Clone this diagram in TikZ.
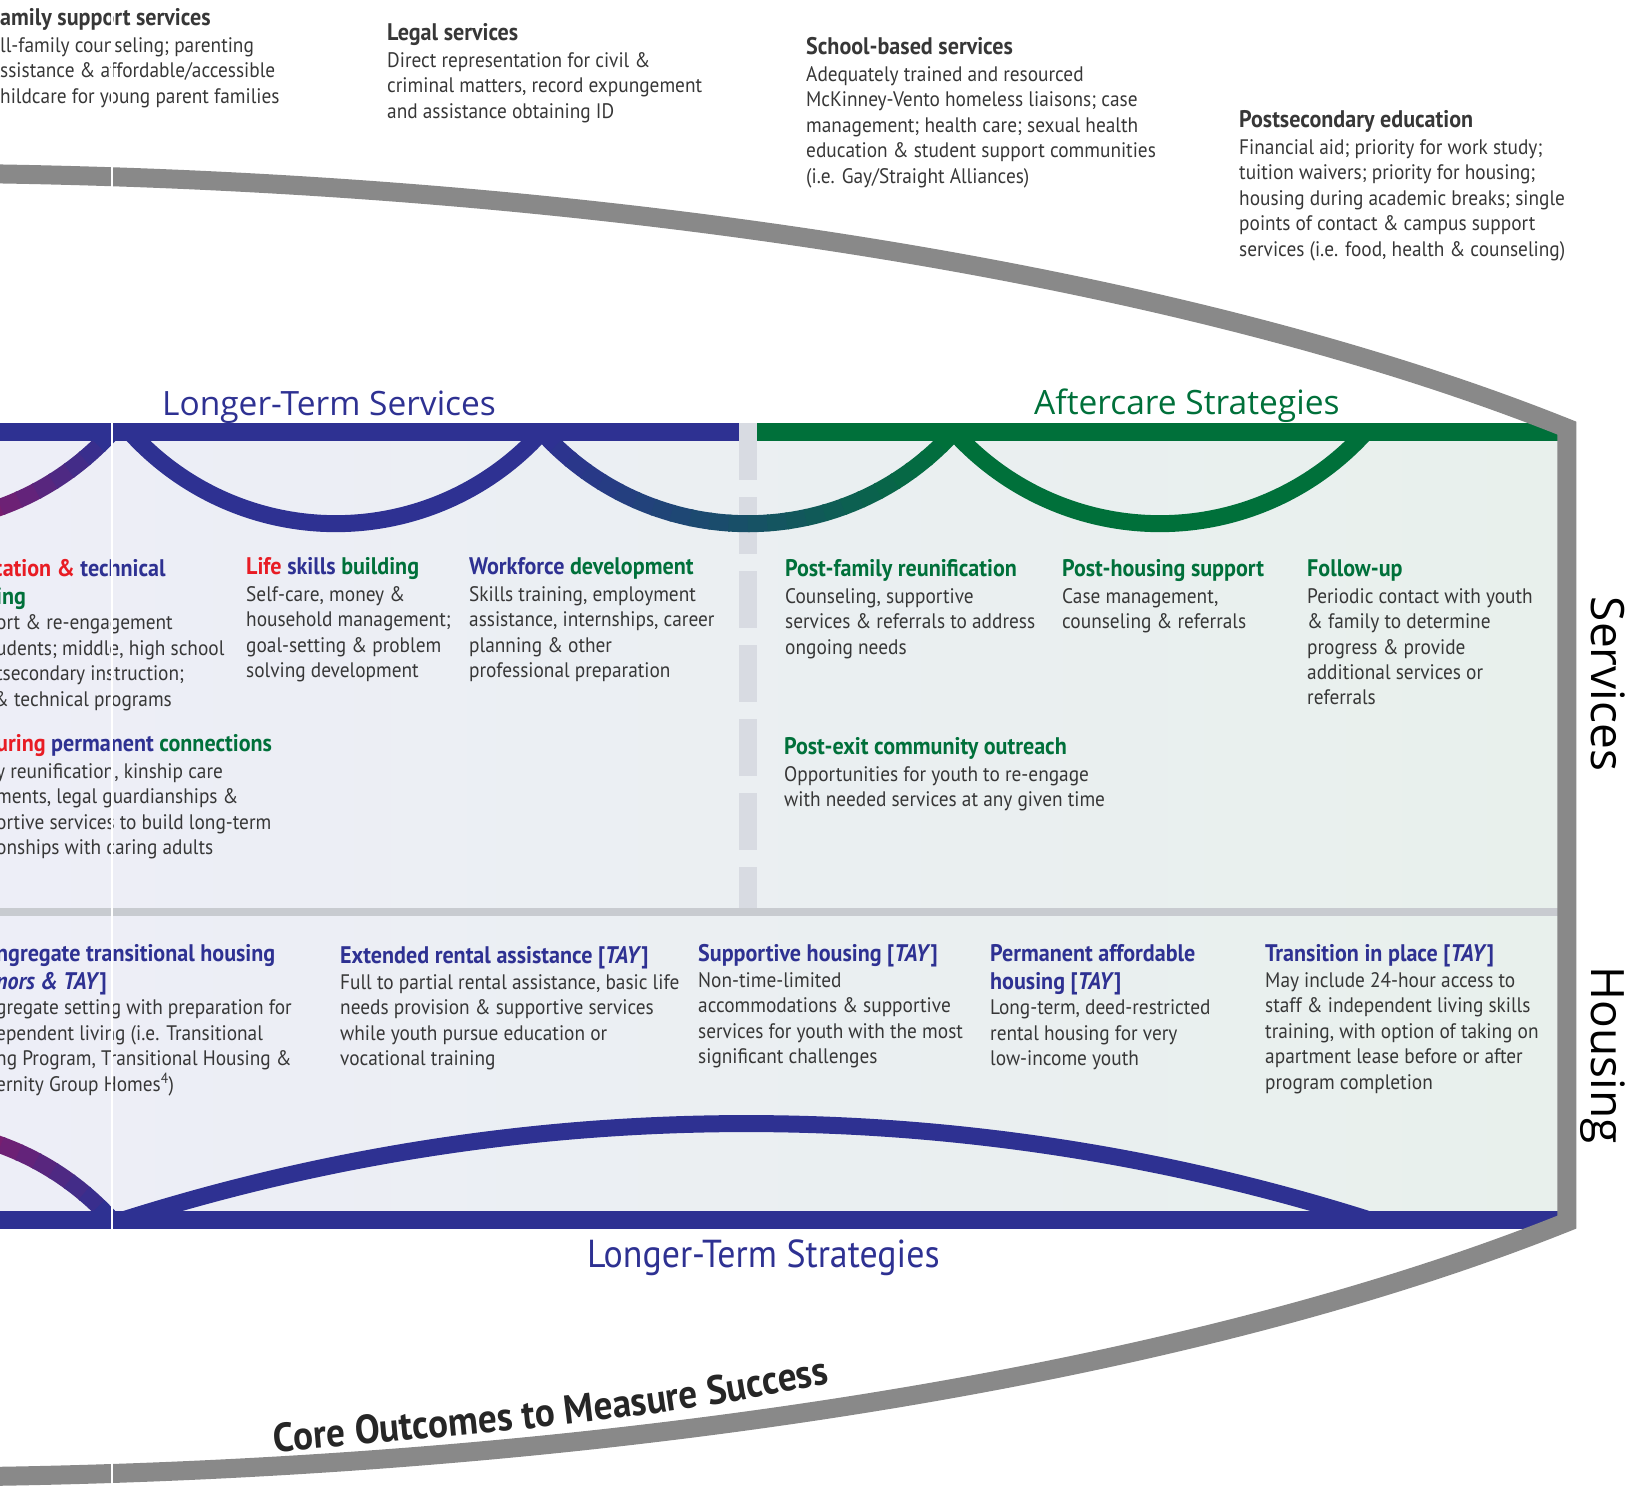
\documentclass[tikz,border=0pt]{standalone}
\usepackage{fontspec}
\setmainfont{PT Sans}[FakeStretch=0.92]
\newfontfamily\titlefont{Open Sans}
\usetikzlibrary{decorations.text}
\definecolor{navy}{RGB}{46,49,146}
\definecolor{leaf}{RGB}{0,112,58}
\definecolor{hot}{RGB}{232,28,36}
\definecolor{plum}{RGB}{120,30,112}
\definecolor{bandgray}{RGB}{137,137,137}
\definecolor{ink}{RGB}{55,55,55}
\definecolor{dashgray}{RGB}{216,219,226}
\definecolor{rulegray}{RGB}{200,203,208}
\definecolor{paneL}{RGB}{237,238,247}
\definecolor{paneR}{RGB}{232,240,236}
\newcommand\tay{[\textit{TAY}]}
\newcommand\txtsize{\fontsize{21}{25.4}\selectfont}
\newcommand\hd[1]{{\fontsize{24}{29}\selectfont\bfseries #1}}
\begin{document}
\begin{tikzpicture}[x=1pt, y=-1pt, line join=round,
  txt/.style={anchor=north west, yshift=17.78pt, inner sep=0pt, align=left, text=ink, font=\txtsize, execute at begin node=\strut},
  title/.style={anchor=base west, inner sep=0pt, font=\titlefont\fontsize{33.5}{34}\selectfont},
  side/.style={anchor=base, rotate=-90, inner sep=0pt, text=black, font=\titlefont\fontsize{46}{46}\selectfont},
  scallop/.style={line width=17pt},
  bar/.style={line width=18pt},
  outline/.style={draw=bandgray, line width=19pt, line join=miter}]
\useasboundingbox (0,0) rectangle (1629,1486);
\clip (0,0) rectangle (1629,1486);
% panel
\shade[left color=paneL, right color=paneR] (0,441) rectangle (1558,1211);
\draw[dashgray, line width=18pt, dash pattern=on 57pt off 17pt] (748,423) -- (748,908);
\draw[rulegray, line width=8pt] (0,912) -- (1558,912);
% arcs
\draw[scallop, plum] (-93.9,246.7) ++(100:277) arc[start angle=100, end angle=73.5, radius=277];
\foreach \k in {0,...,7}
  {\pgfmathsetmacro\mix{100*\k/7}
   \draw[scallop, navy!\mix!plum] (-93.9,246.7) ++(74-4*\k:277) arc[start angle=74-4*\k, end angle=69.6-4*\k, radius=277];}
\draw[scallop, navy] (130,432) arc[start angle=138, end angle=42, radius=277];
\foreach \k in {0,...,23}
  {\pgfmathsetmacro\mix{100*\k/23}
   \draw[scallop, leaf!\mix!navy] (747.9,246.7) ++(138-4*\k:277) arc[start angle=138-4*\k, end angle=133.6-4*\k, radius=277];}
\draw[scallop, leaf] (954,432) arc[start angle=138, end angle=42, radius=277];
\draw[scallop, plum] (-93.9,1405.3) ++(-100:277) arc[start angle=-100, end angle=-73.5, radius=277];
\foreach \k in {0,...,7}
  {\pgfmathsetmacro\mix{100*\k/7}
   \draw[scallop, navy!\mix!plum] (-93.9,1405.3) ++(-74+4*\k:277) arc[start angle=-74+4*\k, end angle=-69.6+4*\k, radius=277];}
\draw[scallop, navy] (126,1219) arc[start angle=-107.5, end angle=-72.5, radius=2063];
% bars
\draw[bar, navy] (0,432) -- (739,432);
\draw[bar, leaf] (757,432) -- (1558,432);
\draw[bar, navy] (0,1220) -- (1558,1220);
\draw[outline] (-115,825) ++(-100:2120 and 652) arc[start angle=-100, end angle=-37.5, x radius=2120, y radius=652]
  -- ++(0,794) arc[start angle=37.5, end angle=100, x radius=2120, y radius=652];
% titles
\node[title, text=navy] (ltserv) at (162,415) {Longer-Term Services};
\node[title, text=leaf] (after) at (1034,414) {Aftercare Strategies};
\node[anchor=base west, inner sep=0pt, text=navy, font=\fontsize{39}{39}\selectfont] (ltstrat) at (587,1267) {Longer-Term Strategies};
\node[side] (serv) at (1591,684) {Services};
\node[side] (hous) at (1591,1055) {Housing};
\path[decorate, decoration={text along path, text={|\bfseries\fontsize{40.5}{40}\selectfont\color{black!85}|Core Outcomes to Measure Success}}]
  (274,1452) .. controls (502,1432) and (740,1415) .. (960,1350);
% top
\node[txt] (famsup) at (0,26) {\hd{amily support services}\\[1.6pt]ll-family counseling; parenting\\ssistance \& affordable/accessible\\hildcare for young parent families};
\node[txt] (legal) at (387,41) {\hd{Legal services}\\[1.6pt]Direct representation for civil \&\\criminal matters, record expungement\\and assistance obtaining ID};
\node[txt] (school) at (806,55) {\hd{School-based services}\\[1.6pt]Adequately trained and resourced\\McKinney-Vento homeless liaisons; case\\management; health care; sexual health\\education \& student support communities\\(i.e. Gay/Straight Alliances)};
\node[txt] (postsec) at (1239,128) {\hd{Postsecondary education}\\[1.6pt]Financial aid; priority for work study;\\tuition waivers; priority for housing;\\housing during academic breaks; single\\points of contact \& campus support\\services (i.e. food, health \& counseling)};
% services
\node[txt] (edu) at (-7,577) {\hd{\textcolor{hot}{cation \&} \textcolor{navy}{technical}}\\[2.6pt]\hspace*{3pt}\hd{\textcolor{leaf}{ing}}\\[0pt]\hspace*{3pt}ort \& re-engagement\\\hspace*{3pt}udents; middle, high school\\\hspace*{3pt}tsecondary instruction;\\\& technical programs};
\node[txt] (life) at (246,575) {\hd{\textcolor{hot}{Life} \textcolor{navy}{skills} \textcolor{leaf}{building}}\\[1.6pt]Self-care, money \&\\household management;\\goal-setting \& problem\\solving development};
\node[txt] (work) at (469,575) {\hd{\textcolor{navy}{Workforce} \textcolor{leaf}{development}}\\[1.6pt]Skills training, employment\\assistance, internships, career\\planning \& other\\professional preparation};
\node[txt] (perm) at (-4,752) {\hd{\textcolor{hot}{uring} \textcolor{navy}{permanent} \textcolor{leaf}{connections}}\\[1.6pt]y reunification, kinship care\\ments, legal guardianships \&\\ortive services to build long-term\\onships with caring adults};
\node[txt] (postfam) at (785,577) {\hd{\textcolor{leaf}{Post-family reunification}}\\[1.6pt]Counseling, supportive\\services \& referrals to address\\ongoing needs};
\node[txt] (posthouse) at (1062,577) {\hd{\textcolor{leaf}{Post-housing support}}\\[1.6pt]Case management,\\counseling \& referrals};
\node[txt] (follow) at (1307,577) {\hd{\textcolor{leaf}{Follow-up}}\\[1.6pt]Periodic contact with youth\\\& family to determine\\progress \& provide\\additional services or\\referrals};
\node[txt] (postexit) at (784,755) {\hd{\textcolor{leaf}{Post-exit community outreach}}\\[1.6pt]Opportunities for youth to re-engage\\with needed services at any given time};
% housing
\node[txt] (congr) at (-4,962) {\hd{\textcolor{navy}{ngregate transitional housing}}\\[2.6pt]\hd{\textcolor{navy}{\textit{nors \& TAY}]}}\\[0pt]gregate setting with preparation for\\ependent living (i.e. Transitional\\ng Program, Transitional Housing \&\\ernity Group Homes\textsuperscript{4})};
\node[txt] (rental) at (340,964) {\hd{\textcolor{navy}{Extended rental assistance \tay}}\\[0.6pt]Full to partial rental assistance, basic life\\needs provision \& supportive services\\while youth pursue education or\\vocational training};
\node[txt] (supp) at (698,962) {\hd{\textcolor{navy}{Supportive housing \tay}}\\[0.6pt]Non-time-limited\\accommodations \& supportive\\services for youth with the most\\significant challenges};
\node[txt] (perma) at (990,962) {\hd{\textcolor{navy}{Permanent affordable}}\\[2.6pt]\hd{\textcolor{navy}{housing \tay}}\\[0pt]Long-term, deed-restricted\\rental housing for very\\low-income youth};
\node[txt] (inplace) at (1265,962) {\hd{\textcolor{navy}{Transition in place \tay}}\\[0.6pt]May include 24-hour access to\\staff \& independent living skills\\training, with option of taking on\\apartment lease before or after\\program completion};
\draw[white, line width=2.5pt] (112,0) -- (112,1486);
\end{tikzpicture}
\end{document}
